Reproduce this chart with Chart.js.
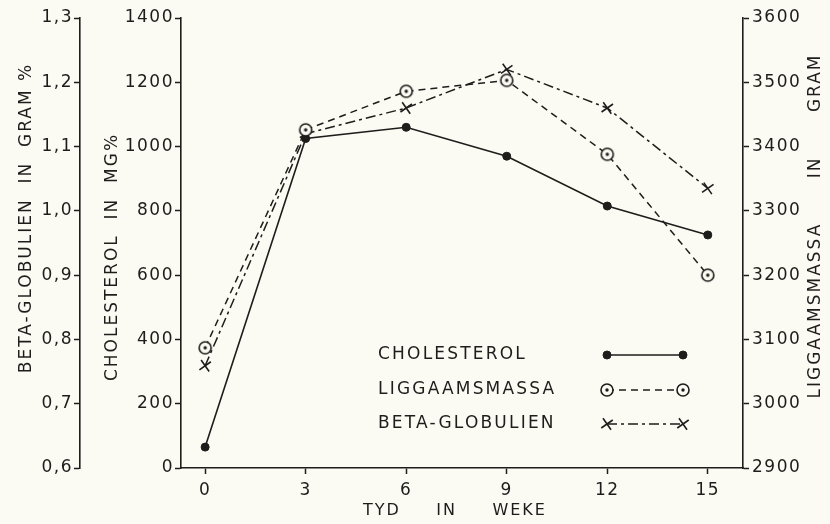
<!DOCTYPE html>
<html>
<head>
<meta charset="utf-8">
<script src="https://cdn.jsdelivr.net/npm/chart.js@4/dist/chart.umd.min.js"></script>
<style>
  body { margin: 0; background: #fbfaf3; }
  canvas { display: block; }
</style>
</head>
<body>
<canvas id="chart" width="830" height="524"></canvas>
<script>
// data
const weeks = [0, 3, 6, 9, 12, 15];
const cholesterol = [65, 1025, 1060, 970, 815, 725];           // mg%
const liggaamsmassa = [3087, 3426, 3486, 3503, 3388, 3200];     // gram
const betaGlobulien = [0.759, 1.12, 1.16, 1.22, 1.16, 1.035];   // gram %

const weekTicks = [0, 3, 6, 9, 12, 15];
const cholTicks = [0, 200, 400, 600, 800, 1000, 1200, 1400];
const massTicks = [2900, 3000, 3100, 3200, 3300, 3400, 3500, 3600];
const betaTicks = [0.6, 0.7, 0.8, 0.9, 1.0, 1.1, 1.2, 1.3];

const ink = '#1d1d1b';
const paper = '#fbfaf3';
const fontFamily = '"DejaVu Sans", sans-serif';

// circle with a dot in the middle, used for liggaamsmassa
function ringPoint() {
    const c = document.createElement('canvas');
    c.width = c.height = 18;
    const g = c.getContext('2d');
    g.fillStyle = paper;
    g.strokeStyle = ink;
    g.lineWidth = 1.6;
    g.beginPath();
    g.arc(9, 9, 6, 0, Math.PI * 2);
    g.fill();
    g.stroke();
    g.fillStyle = ink;
    g.beginPath();
    g.arc(9, 9, 1.7, 0, Math.PI * 2);
    g.fill();
    return c;
}
const ring = ringPoint();

function setTicks(values) {
    return scale => { scale.ticks = values.map(v => ({ value: v })); };
}

const tickFont = { family: fontFamily, size: 17 };

const axisBase = {
    type: 'linear',
    grid: { drawOnChartArea: false, drawTicks: true, tickLength: 6, color: ink, tickWidth: 1.5 },
    border: { display: true, color: ink, width: 1.6 },
    ticks: { color: ink, font: tickFont, callback: v => String(v) }
};

// paper colour + a little letter spacing like the old stencil lettering
const paperPlugin = {
    id: 'paper',
    beforeDraw(chart) {
        const ctx = chart.ctx;
        ctx.save();
        ctx.fillStyle = paper;
        ctx.fillRect(0, 0, chart.width, chart.height);
        ctx.restore();
        ctx.letterSpacing = '1.5px';
    }
};

function upText(ctx, text, x, y) {
    ctx.save();
    ctx.translate(x, y);
    ctx.rotate(-Math.PI / 2);
    ctx.textAlign = 'center';
    ctx.textBaseline = 'middle';
    ctx.fillText(text, 0, 0);
    ctx.restore();
}

// titles are drawn by hand (the right one reads upwards)
const titlesPlugin = {
    id: 'titles',
    afterDraw(chart) {
        const ctx = chart.ctx;
        ctx.save();
        ctx.fillStyle = ink;
        ctx.font = '17px ' + fontFamily;
        ctx.letterSpacing = '2px';
        upText(ctx, 'BETA-GLOBULIEN  IN  GRAM %', 27, 218);
        upText(ctx, 'CHOLESTEROL  IN  MG%', 113, 257);
        upText(ctx, 'LIGGAAMSMASSA      IN      GRAM', 816, 226);
        ctx.textAlign = 'center';
        ctx.textBaseline = 'middle';
        ctx.font = '16px ' + fontFamily;
        ctx.letterSpacing = '2px';
        ctx.fillText('TYD     IN     WEKE', 455, 511);
        ctx.restore();
    }
};

// legend sits inside the plot, text on the left and a sample line on the right
const legendPlugin = {
    id: 'sketchLegend',
    afterDatasetsDraw(chart) {
        const ctx = chart.ctx;
        const rows = [355, 390, 424];
        const x0 = 607, x1 = 683;
        ctx.save();
        chart.data.datasets.forEach((ds, i) => {
            const y = rows[i];
            ctx.fillStyle = ink;
            ctx.font = '17px ' + fontFamily;
            ctx.letterSpacing = '2.2px';
            ctx.textAlign = 'left';
            ctx.textBaseline = 'middle';
            ctx.fillText(ds.label, 378, y);
            ctx.letterSpacing = '0px';

            ctx.strokeStyle = ink;
            ctx.lineWidth = ds.borderWidth;
            ctx.setLineDash(ds.borderDash || []);
            ctx.beginPath();
            ctx.moveTo(x0, y);
            ctx.lineTo(x1, y);
            ctx.stroke();
            ctx.setLineDash([]);

            const pt = {
                pointStyle: ds.pointStyle,
                radius: ds.pointRadius,
                rotation: ds.pointRotation || 0,
                borderWidth: ds.pointBorderWidth
            };
            ctx.fillStyle = ink;
            ctx.lineWidth = ds.pointBorderWidth;
            Chart.helpers.drawPoint(ctx, pt, x0, y);
            Chart.helpers.drawPoint(ctx, pt, x1, y);
        });
        ctx.restore();
    }
};

new Chart(document.getElementById('chart'), {
    type: 'line',
    data: {
        datasets: [
            {
                label: 'CHOLESTEROL',
                data: weeks.map((w, i) => ({ x: w, y: cholesterol[i] })),
                yAxisID: 'yChol',
                borderColor: ink,
                backgroundColor: ink,
                borderWidth: 1.6,
                pointStyle: 'circle',
                pointRadius: 4,
                pointBorderWidth: 1,
                pointBackgroundColor: ink,
                pointBorderColor: ink,
                order: 3
            },
            {
                label: 'LIGGAAMSMASSA',
                data: weeks.map((w, i) => ({ x: w, y: liggaamsmassa[i] })),
                yAxisID: 'yMass',
                borderColor: ink,
                borderWidth: 1.5,
                borderDash: [7, 5],
                pointStyle: ring,
                pointRadius: 7,
                pointBorderWidth: 1.5,
                order: 1
            },
            {
                label: 'BETA-GLOBULIEN',
                data: weeks.map((w, i) => ({ x: w, y: betaGlobulien[i] })),
                yAxisID: 'yBeta',
                borderColor: ink,
                borderWidth: 1.5,
                borderDash: [10, 4, 3, 4],
                pointStyle: 'crossRot',
                pointRadius: 7,
                pointRotation: 10,
                pointBorderWidth: 1.6,
                pointBorderColor: ink,
                order: 2
            }
        ]
    },
    options: {
        responsive: false,
        animation: false,
        devicePixelRatio: 1,
        layout: { padding: { top: 18, left: 0, right: 0, bottom: 0 } },
        plugins: {
            legend: { display: false },
            tooltip: { enabled: false }
        },
        scales: {
            x: {
                ...axisBase,
                position: 'bottom',
                min: -0.72,
                max: 16.05,
                afterBuildTicks: setTicks(weekTicks),
                ticks: { ...axisBase.ticks, padding: 6, autoSkip: false },
                afterFit: s => { s.height = 56; }
            },
            yChol: {
                ...axisBase,
                position: 'left',
                weight: 0,
                min: 0,
                max: 1400,
                afterBuildTicks: setTicks(cholTicks),
                ticks: { ...axisBase.ticks, padding: 1 },
                afterFit: s => { s.width = 101; }
            },
            yBeta: {
                ...axisBase,
                position: 'left',
                weight: 1,
                min: 0.6,
                max: 1.3,
                afterBuildTicks: setTicks(betaTicks),
                ticks: {
                    ...axisBase.ticks,
                    padding: 1,
                    callback: v => v.toFixed(1).replace('.', ',')
                },
                afterFit: s => { s.width = 80; }
            },
            yMass: {
                ...axisBase,
                position: 'right',
                min: 2900,
                max: 3600,
                afterBuildTicks: setTicks(massTicks),
                ticks: { ...axisBase.ticks, padding: 3 },
                afterFit: s => { s.width = 87; }
            }
        }
    },
    plugins: [paperPlugin, titlesPlugin, legendPlugin]
});
</script>
</body>
</html>
